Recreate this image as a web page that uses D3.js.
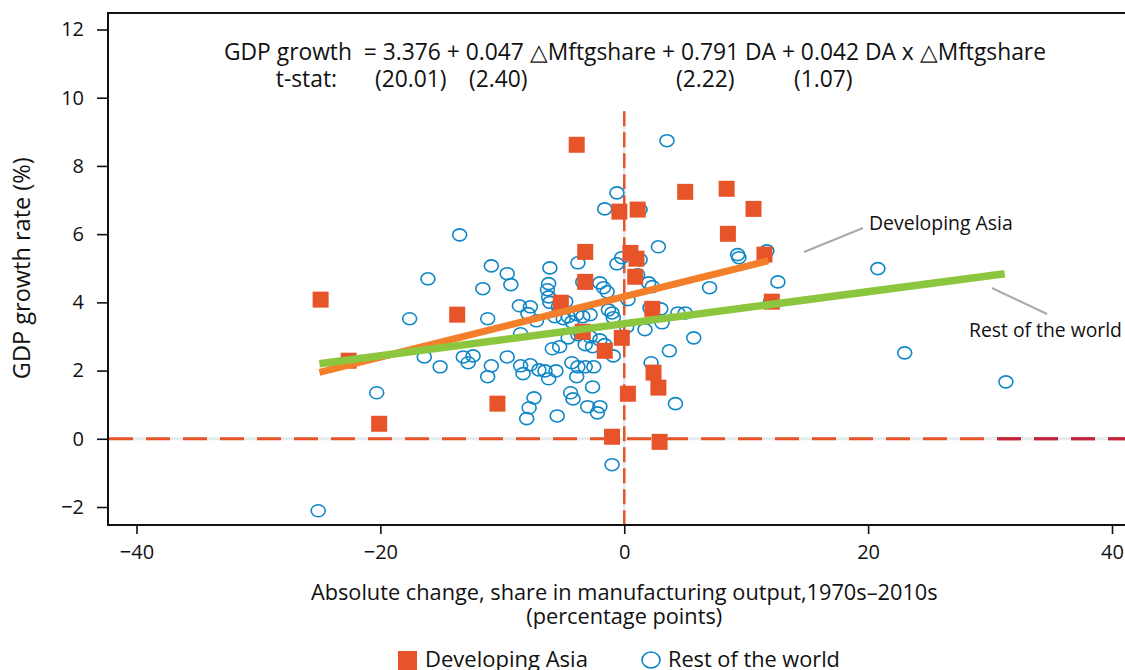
<!DOCTYPE html>
<html>
<head>
<meta charset="utf-8">
<script src="https://cdn.jsdelivr.net/npm/d3@7"></script>
<style>
  body { margin: 0; background: #fff; }
  svg { display: block; font-family: 'Open Sans', Lato, sans-serif; }
</style>
</head>
<body>
<svg id="chart" width="1125" height="670"></svg>
<script>
// Developing Asia: [change in mfg share (pp), GDP growth (%)]
const asiaPoints = [
  [-24.9, 4.08], [-22.6, 2.29], [-20.1, 0.44], [-13.7, 3.64], [-10.4, 1.03],
  [-3.9, 8.62], [-5.2, 3.99], [-3.2, 5.48], [-3.2, 4.6], [-3.4, 3.14],
  [-1.6, 2.58], [-0.4, 6.66], [1.1, 6.72], [0.5, 5.45], [1.0, 5.28],
  [0.9, 4.75], [-0.2, 2.96], [-1.0, 0.06], [0.3, 1.32], [2.4, 1.94],
  [2.8, 1.5], [2.9, -0.09], [2.3, 3.81], [5.0, 7.24], [8.4, 7.33],
  [8.5, 6.01], [10.6, 6.74], [11.5, 5.4], [12.1, 4.02]
];

// Rest of the world
const rowPoints = [
  [-25.1, -2.11], [-20.3, 1.35], [-17.6, 3.52], [-16.4, 2.4], [-16.1, 4.69],
  [-15.1, 2.11], [-13.5, 5.98], [-11.6, 4.4], [-10.9, 5.07], [-9.6, 4.84],
  [-9.3, 4.52], [-11.2, 3.52], [-13.2, 2.4], [-12.4, 2.43], [-12.8, 2.23],
  [-10.9, 2.14], [-11.2, 1.82], [-9.6, 2.4], [-8.6, 3.9], [-7.7, 3.87],
  [-7.9, 3.67], [-7.2, 3.46], [-8.5, 3.08], [-8.5, 2.14], [-7.7, 2.17],
  [-8.3, 1.91], [-7.0, 2.02], [-6.5, 1.99], [-6.2, 1.76], [-5.6, 1.99],
  [-7.4, 1.2], [-7.8, 0.91], [-8.0, 0.59], [-6.1, 5.01], [-6.2, 4.55],
  [-6.3, 4.37], [-6.2, 4.16], [-3.8, 5.16], [-3.4, 4.6], [-2.0, 4.57],
  [-1.7, 4.43], [-1.4, 4.31], [-0.6, 7.21], [-1.6, 6.74], [1.3, 6.72],
  [-0.6, 5.13], [-0.2, 5.31], [1.3, 5.25], [1.1, 4.81], [2.0, 4.57],
  [0.3, 4.08], [-4.8, 4.02], [-5.4, 3.87], [-6.1, 4.0], [-5.7, 3.58],
  [-4.6, 3.58], [-3.9, 3.64], [-2.8, 3.64], [-3.4, 3.58], [-1.3, 3.78],
  [-1.0, 3.69], [-0.9, 3.55], [-2.0, 2.9], [-1.6, 2.76], [-2.8, 2.99],
  [1.7, 3.2], [0.2, 3.28], [-5.0, 3.52], [-4.3, 3.43], [-5.9, 2.64],
  [-5.3, 2.7], [-4.6, 2.96], [-3.8, 3.05], [-3.2, 2.76], [-2.6, 2.7],
  [-4.3, 2.23], [-3.8, 2.11], [-3.2, 2.11], [-2.5, 2.11], [-3.9, 1.82],
  [-2.6, 1.52], [-4.4, 1.35], [-4.2, 1.17], [-3.0, 0.94], [-2.0, 0.94],
  [-2.2, 0.76], [-5.5, 0.67], [-1.0, -0.76], [-0.9, 2.43], [2.2, 2.23],
  [3.7, 2.58], [5.7, 2.96], [4.2, 1.03], [3.1, 3.4], [2.1, 3.84],
  [3.0, 3.81], [4.4, 3.69], [5.0, 3.69], [2.8, 5.63], [3.5, 8.74],
  [5.0, 7.24], [9.3, 5.4], [9.4, 5.31], [11.7, 5.51], [12.6, 4.6],
  [7.0, 4.43], [12.0, 4.02], [2.3, 4.46], [20.8, 4.99], [23.0, 2.52],
  [31.3, 1.67]
];

// fitted lines (end points)
const asiaFit = [[-25, 1.95], [11.8, 5.22]];
const rowFit = [[-25, 2.2], [31.2, 4.84]];

const xTicks = [-40, -20, 0, 20, 40];
const yTicks = [-2, 0, 2, 4, 6, 8, 10, 12];

const equation = 'GDP growth  = 3.376 + 0.047 \u25B3Mftgshare + 0.791 DA + 0.042 DA x \u25B3Mftgshare';
const tstatLabel = 't-stat:';
const tstats = ['(20.01)', '(2.40)', '(2.22)', '(1.07)'];
const tstatX = [375, 469, 676, 794];

const ORANGE = '#E8542A';
const BLUE = '#0F87C6';
const FIT_ASIA = '#F47F2A';
const FIT_ROW = '#8CC63F';
const DASH_RED = '#C0233F';
const INK = '#111';

const svg = d3.select('#chart');
const frame = { left: 108, top: 13, bottom: 525, right: 1145 };

const x = d3.scaleLinear().domain([-40, 40]).range([136.5, 1112]);
const y = d3.scaleLinear().domain([-2, 12]).range([507, 29.5]);

const fmt = (d) => (d < 0 ? '\u2212' + Math.abs(d) : String(d));

// squeeze/stretch a text node to the width it has in the original
const fitWidth = (sel, width) => {
  const w = sel.node().getComputedTextLength();
  if (w > 0) {
    const fs = parseFloat(sel.attr('font-size'));
    sel.attr('font-size', (fs * width) / w);
  }
  return sel;
};

// reference lines at zero
const zeroY = y(0);
svg.append('line')
  .attr('x1', frame.left).attr('x2', frame.right)
  .attr('y1', zeroY).attr('y2', zeroY)
  .attr('stroke', '#e4ecee').attr('stroke-width', 3);
svg.append('line')
  .attr('x1', frame.left + 1).attr('x2', frame.right)
  .attr('y1', zeroY).attr('y2', zeroY)
  .attr('stroke', ORANGE).attr('stroke-width', 3)
  .attr('stroke-dasharray', '24,13');
svg.append('line')
  .attr('x1', frame.left + 1 + 37 * 24).attr('x2', frame.right)
  .attr('y1', zeroY).attr('y2', zeroY)
  .attr('stroke', DASH_RED).attr('stroke-width', 3)
  .attr('stroke-dasharray', '24,13');

const zeroX = x(0);
svg.append('line')
  .attr('x1', zeroX).attr('x2', zeroX)
  .attr('y1', y(9.6)).attr('y2', frame.bottom)
  .attr('stroke', '#e4ecee').attr('stroke-width', 2.5);
svg.append('line')
  .attr('x1', zeroX).attr('x2', zeroX)
  .attr('y1', y(9.6)).attr('y2', frame.bottom)
  .attr('stroke', ORANGE).attr('stroke-width', 2.5)
  .attr('stroke-dasharray', '15,6');

// points
svg.append('g')
  .selectAll('ellipse')
  .data(rowPoints)
  .join('ellipse')
  .attr('cx', (d) => x(d[0]))
  .attr('cy', (d) => y(d[1]))
  .attr('rx', 7)
  .attr('ry', 6)
  .attr('fill', 'none')
  .attr('stroke', BLUE)
  .attr('stroke-width', 1.6);

const sq = 16;
svg.append('g')
  .selectAll('rect')
  .data(asiaPoints)
  .join('rect')
  .attr('x', (d) => x(d[0]) - sq / 2)
  .attr('y', (d) => y(d[1]) - sq / 2)
  .attr('width', sq)
  .attr('height', sq)
  .attr('fill', ORANGE);

// fitted lines
const line = d3.line().x((d) => x(d[0])).y((d) => y(d[1]));
svg.append('path').datum(asiaFit)
  .attr('d', line).attr('fill', 'none')
  .attr('stroke', FIT_ASIA).attr('stroke-width', 7);
svg.append('path').datum(rowFit)
  .attr('d', line).attr('fill', 'none')
  .attr('stroke', FIT_ROW).attr('stroke-width', 7.5);

// frame
svg.append('path')
  .attr('d', `M${frame.right},${frame.top}H${frame.left}V${frame.bottom}H${frame.right}`)
  .attr('fill', 'none')
  .attr('stroke', INK)
  .attr('stroke-width', 2);

// axes
const yAxis = svg.append('g')
  .attr('transform', `translate(${frame.left},0)`)
  .call(d3.axisLeft(y).tickValues(yTicks).tickFormat(fmt).tickSize(11).tickPadding(13));
const xAxis = svg.append('g')
  .attr('transform', `translate(0,${frame.bottom})`)
  .call(d3.axisBottom(x).tickValues(xTicks).tickFormat(fmt).tickSize(9).tickPadding(11));
[xAxis, yAxis].forEach((g) => {
  g.select('.domain').remove();
  g.selectAll('.tick line').attr('stroke', INK).attr('stroke-width', 1.6);
  g.selectAll('.tick text').attr('fill', INK).attr('font-size', 20)
    .attr('font-family', "'Open Sans', Lato, sans-serif");
});

// axis titles
fitWidth(svg.append('text')
  .attr('transform', `translate(30,${y(5)}) rotate(-90)`)
  .attr('text-anchor', 'middle')
  .attr('font-size', 20)
  .attr('fill', INK)
  .text('GDP growth rate (%)'), 222);

fitWidth(svg.append('text')
  .attr('x', zeroX).attr('y', 600)
  .attr('text-anchor', 'middle')
  .attr('font-size', 20)
  .attr('fill', INK)
  .text('Absolute change, share in manufacturing output,1970s\u20132010s'), 627);
fitWidth(svg.append('text')
  .attr('x', zeroX).attr('y', 624)
  .attr('text-anchor', 'middle')
  .attr('font-size', 20)
  .attr('fill', INK)
  .text('(percentage points)'), 196);

// regression equation
const eq = fitWidth(svg.append('text')
  .attr('x', 224).attr('y', 60)
  .attr('font-size', 21)
  .attr('fill', INK)
  .style('white-space', 'pre')
  .text(equation), 821);
const eqSize = eq.attr('font-size');
svg.append('text')
  .attr('x', 337).attr('y', 87)
  .attr('text-anchor', 'end')
  .attr('font-size', eqSize)
  .attr('fill', INK)
  .text(tstatLabel);
svg.append('g')
  .selectAll('text')
  .data(tstats)
  .join('text')
  .attr('x', (d, i) => tstatX[i])
  .attr('y', 87)
  .attr('font-size', eqSize)
  .attr('fill', INK)
  .text((d) => d);

// callouts
svg.append('line')
  .attr('x1', 804).attr('y1', 252).attr('x2', 863).attr('y2', 228)
  .attr('stroke', '#aaa').attr('stroke-width', 2);
fitWidth(svg.append('text')
  .attr('x', 869).attr('y', 230)
  .attr('font-size', 18)
  .attr('fill', INK)
  .text('Developing Asia'), 144);
svg.append('line')
  .attr('x1', 992).attr('y1', 288).attr('x2', 1047).attr('y2', 314)
  .attr('stroke', '#aaa').attr('stroke-width', 2);
fitWidth(svg.append('text')
  .attr('x', 969).attr('y', 337)
  .attr('font-size', 18)
  .attr('fill', INK)
  .text('Rest of the world'), 153);

// legend
const legend = svg.append('g');
legend.append('rect')
  .attr('x', 398).attr('y', 651).attr('width', 19).attr('height', 19)
  .attr('fill', ORANGE);
fitWidth(legend.append('text')
  .attr('x', 425).attr('y', 667)
  .attr('font-size', 21).attr('fill', INK)
  .text('Developing Asia'), 163);
legend.append('ellipse')
  .attr('cx', 651).attr('cy', 660).attr('rx', 9).attr('ry', 8)
  .attr('fill', 'none').attr('stroke', BLUE).attr('stroke-width', 1.6);
fitWidth(legend.append('text')
  .attr('x', 668).attr('y', 667)
  .attr('font-size', 21).attr('fill', INK)
  .text('Rest of the world'), 172);
</script>
</body>
</html>
